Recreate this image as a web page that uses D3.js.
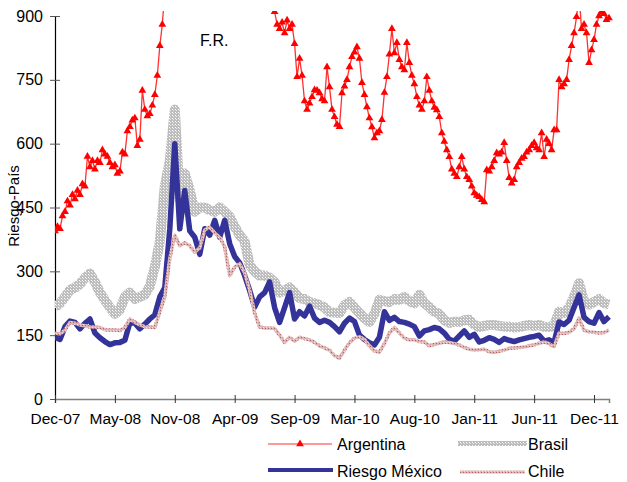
<!DOCTYPE html>
<html><head><meta charset="utf-8">
<script src="https://cdn.jsdelivr.net/npm/d3@7"></script>
<style>body{margin:0;background:#fff} svg text{font-family:Arial,"Liberation Sans",sans-serif;fill:#000}</style>
</head><body><svg id="c" width="627" height="482"></svg>
<script>
const tickLabels = ["Dec-07","May-08","Nov-08","Apr-09","Sep-09","Mar-10","Aug-10","Jan-11","Jun-11","Dec-11"];
const yTicks = [0,150,300,450,600,750,900];
const seriesNames = ["Argentina","Brasil","Riesgo México","Chile"];
// Argentina read at twice the density of the other series
const argentina = [395,405,400,430,440,465,455,480,470,490,
 480,505,500,570,545,560,540,560,555,585,
 575,570,555,545,550,530,535,580,575,630,
 640,655,660,595,610,725,680,665,670,690,
 715,760,830,880,960,
 1000,1050,1150,1200,1300,1400,1500,1600,1700,1750,
 1800,1850,1800,1750,1700,1700,1750,1800,1850,1800,
 1700,1600,1550,1500,1450,1400,1350,1300,1250,1200,
 1150,1120,1100,1080,1050,1030,1000,980,960,950,
 940,930,920,910,
 880,870,885,860,890,870,880,835,757,800,
 760,700,680,695,710,726,725,719,705,700,
 780,733,680,663,645,640,719,735,750,780,
 804,815,827,800,743,715,686,660,639,613,
 625,630,656,720,757,810,870,813,837,797,
 780,773,837,790,760,740,710,690,680,700,
 757,725,700,685,679,663,625,605,585,569,
 540,530,522,545,569,540,522,515,500,484,
 478,475,468,463,538,535,545,560,578,575,
 580,602,560,520,507,515,545,555,565,569,
 580,585,595,602,590,585,625,569,610,600,
 585,632,632,750,733,740,750,797,830,860,
 898,950,870,880,860,790,820,844,880,900,
 910,905,891,895];
const brasil = [215,225,240,256,262,270,285,295,275,250,
 232,215,200,210,240,250,235,240,245,265,
 310,370,500,560,680,470,530,490,440,450,
 450,444,440,450,440,428,405,385,370,315,
 300,290,290,285,275,250,255,262,250,237,
 235,228,225,221,215,204,203,202,220,228,
 215,202,190,181,200,233,230,228,235,233,
 240,230,225,245,225,216,205,200,185,179,
 182,181,185,186,175,169,172,174,174,172,
 170,170,168,169,172,174,172,174,170,169,
 172,205,202,215,240,272,230,222,228,235,
 225,222];
const mexico = [145,140,170,183,180,165,178,188,155,144,
 135,128,132,133,138,180,178,165,176,188,
 198,240,262,400,600,400,490,395,380,340,
 400,385,420,380,420,365,335,320,290,255,
 216,240,250,275,215,180,215,250,188,205,
 195,218,190,180,185,180,170,158,178,190,
 182,150,140,132,127,145,205,185,192,182,
 180,176,170,148,160,163,168,165,155,140,
 136,148,160,145,152,134,138,144,140,133,
 142,138,135,139,142,145,147,150,136,139,
 133,181,175,185,215,245,192,182,178,203,
 182,193];
const chile = [155,153,162,180,178,174,172,169,169,168,
 163,162,162,161,168,188,180,174,170,169,
 168,205,240,330,385,360,367,360,345,355,
 397,404,390,380,357,290,310,318,296,256,
 202,169,167,167,166,150,133,145,136,145,
 142,139,133,125,120,115,102,96,115,132,
 143,146,140,125,113,110,130,155,168,155,
 143,139,139,135,134,125,128,131,134,133,
 130,127,121,117,115,116,117,111,110,112,
 115,119,120,121,122,125,127,131,134,130,
 123,155,154,157,165,190,162,158,157,155,
 156,162];

const svg = d3.select("#c");
const L = 55, R = 609, T = 16, B = 399;
const x = d3.scaleLinear().domain([0, brasil.length - 1]).range([L, R]);
const xa = d3.scaleLinear().domain([0, argentina.length - 1]).range([L, R]);
const y = d3.scaleLinear().domain([0, 900]).range([B, T]);

const defs = svg.append("defs");
defs.append("clipPath").attr("id","clip").append("rect")
  .attr("x", L).attr("y", 11).attr("width", R - L + 8).attr("height", B - 11);
function dotted(id, base, pts){
  const p = defs.append("pattern").attr("id", id).attr("patternUnits","userSpaceOnUse")
    .attr("width", 3).attr("height", 3);
  p.append("rect").attr("width",3).attr("height",3).attr("fill",base);
  pts.forEach(([px,py,c]) => p.append("rect").attr("x",px).attr("y",py)
    .attr("width",1).attr("height",1).attr("fill",c));
}
dotted("patBr", "#bdbdbd", [[1,1,"#ffffff"],[2,2,"#e6e6e6"]]);
dotted("patCl", "#dcb2b2", [[1,1,"#b46464"],[2,0,"#f0dada"]]);

// axes
const yAxis = svg.append("g").attr("transform", `translate(${L},0)`)
  .call(d3.axisLeft(y).tickValues(yTicks).tickSize(5).tickPadding(7));
yAxis.select(".domain").attr("stroke","#000").attr("stroke-width",1.2);
yAxis.selectAll(".tick line").attr("x1", 5).attr("stroke","#555");
yAxis.selectAll(".tick text").attr("font-size", 16).attr("font-family","Arial, 'Liberation Sans', sans-serif");

const xAxis = svg.append("g").attr("transform", `translate(0,${B})`)
  .call(d3.axisBottom(x).tickValues(tickLabels.map((d,i)=>i*12))
    .tickFormat((d,i)=>tickLabels[i]).tickSize(4).tickPadding(10));
xAxis.select(".domain").attr("stroke","#808080").attr("stroke-width",1.5);
xAxis.selectAll(".tick line").attr("y1", -4).attr("stroke","#333");
xAxis.selectAll(".tick text").attr("font-size", 15.5).attr("font-family","Arial, 'Liberation Sans', sans-serif");

const plot = svg.append("g").attr("clip-path","url(#clip)");
const line = d3.line().x((d,i)=>x(i)).y(d=>y(d));
const lineA = d3.line().x((d,i)=>xa(i)).y(d=>y(d));

plot.append("path").datum(argentina).attr("d", lineA)
  .attr("fill","none").attr("stroke","#ff3030").attr("stroke-width",1.3);
const tri = d3.symbol().type(d3.symbolTriangle).size(26);
plot.append("g").selectAll("path").data(argentina).join("path")
  .attr("d", tri).attr("transform",(d,i)=>`translate(${xa(i)},${y(d)})`)
  .attr("fill","#ff0000");
plot.append("path").datum(brasil).attr("d", line)
  .attr("fill","none").attr("stroke","url(#patBr)").attr("stroke-width",10).attr("stroke-linejoin","round");
plot.append("path").datum(mexico).attr("d", line)
  .attr("fill","none").attr("stroke","#333399").attr("stroke-width",5.5).attr("stroke-linejoin","round");
plot.append("path").datum(chile).attr("d", line)
  .attr("fill","none").attr("stroke","url(#patCl)").attr("stroke-width",3.5).attr("stroke-linejoin","round");

// annotation
svg.append("text").attr("x", 200).attr("y", 46).attr("font-size", 16).text("F.R.");
// y title
svg.append("text").attr("transform","translate(19,206) rotate(-90)").attr("text-anchor","middle")
  .attr("font-size", 15).text("Riesgo-País");

// legend
const lg = svg.append("g");
lg.append("line").attr("x1",268).attr("x2",332).attr("y1",444).attr("y2",444).attr("stroke","#ff3030").attr("stroke-width",1.2);
lg.append("path").attr("d", tri).attr("transform","translate(300,444)").attr("fill","#ff0000");
lg.append("text").attr("x",337).attr("y",450).attr("font-size",16).text(seriesNames[0]);
lg.append("rect").attr("x",458).attr("y",441).attr("width",69).attr("height",5).attr("fill","url(#patBr)");
lg.append("text").attr("x",528).attr("y",450).attr("font-size",16).text(seriesNames[1]);
lg.append("line").attr("x1",268).attr("x2",333).attr("y1",470).attr("y2",470).attr("stroke","#333399").attr("stroke-width",4);
lg.append("text").attr("x",337).attr("y",477).attr("font-size",16).text(seriesNames[2]);
lg.append("rect").attr("x",460).attr("y",470.5).attr("width",65).attr("height",3).attr("fill","url(#patCl)");
lg.append("text").attr("x",528).attr("y",477).attr("font-size",16).text(seriesNames[3]);
</script></body></html>
